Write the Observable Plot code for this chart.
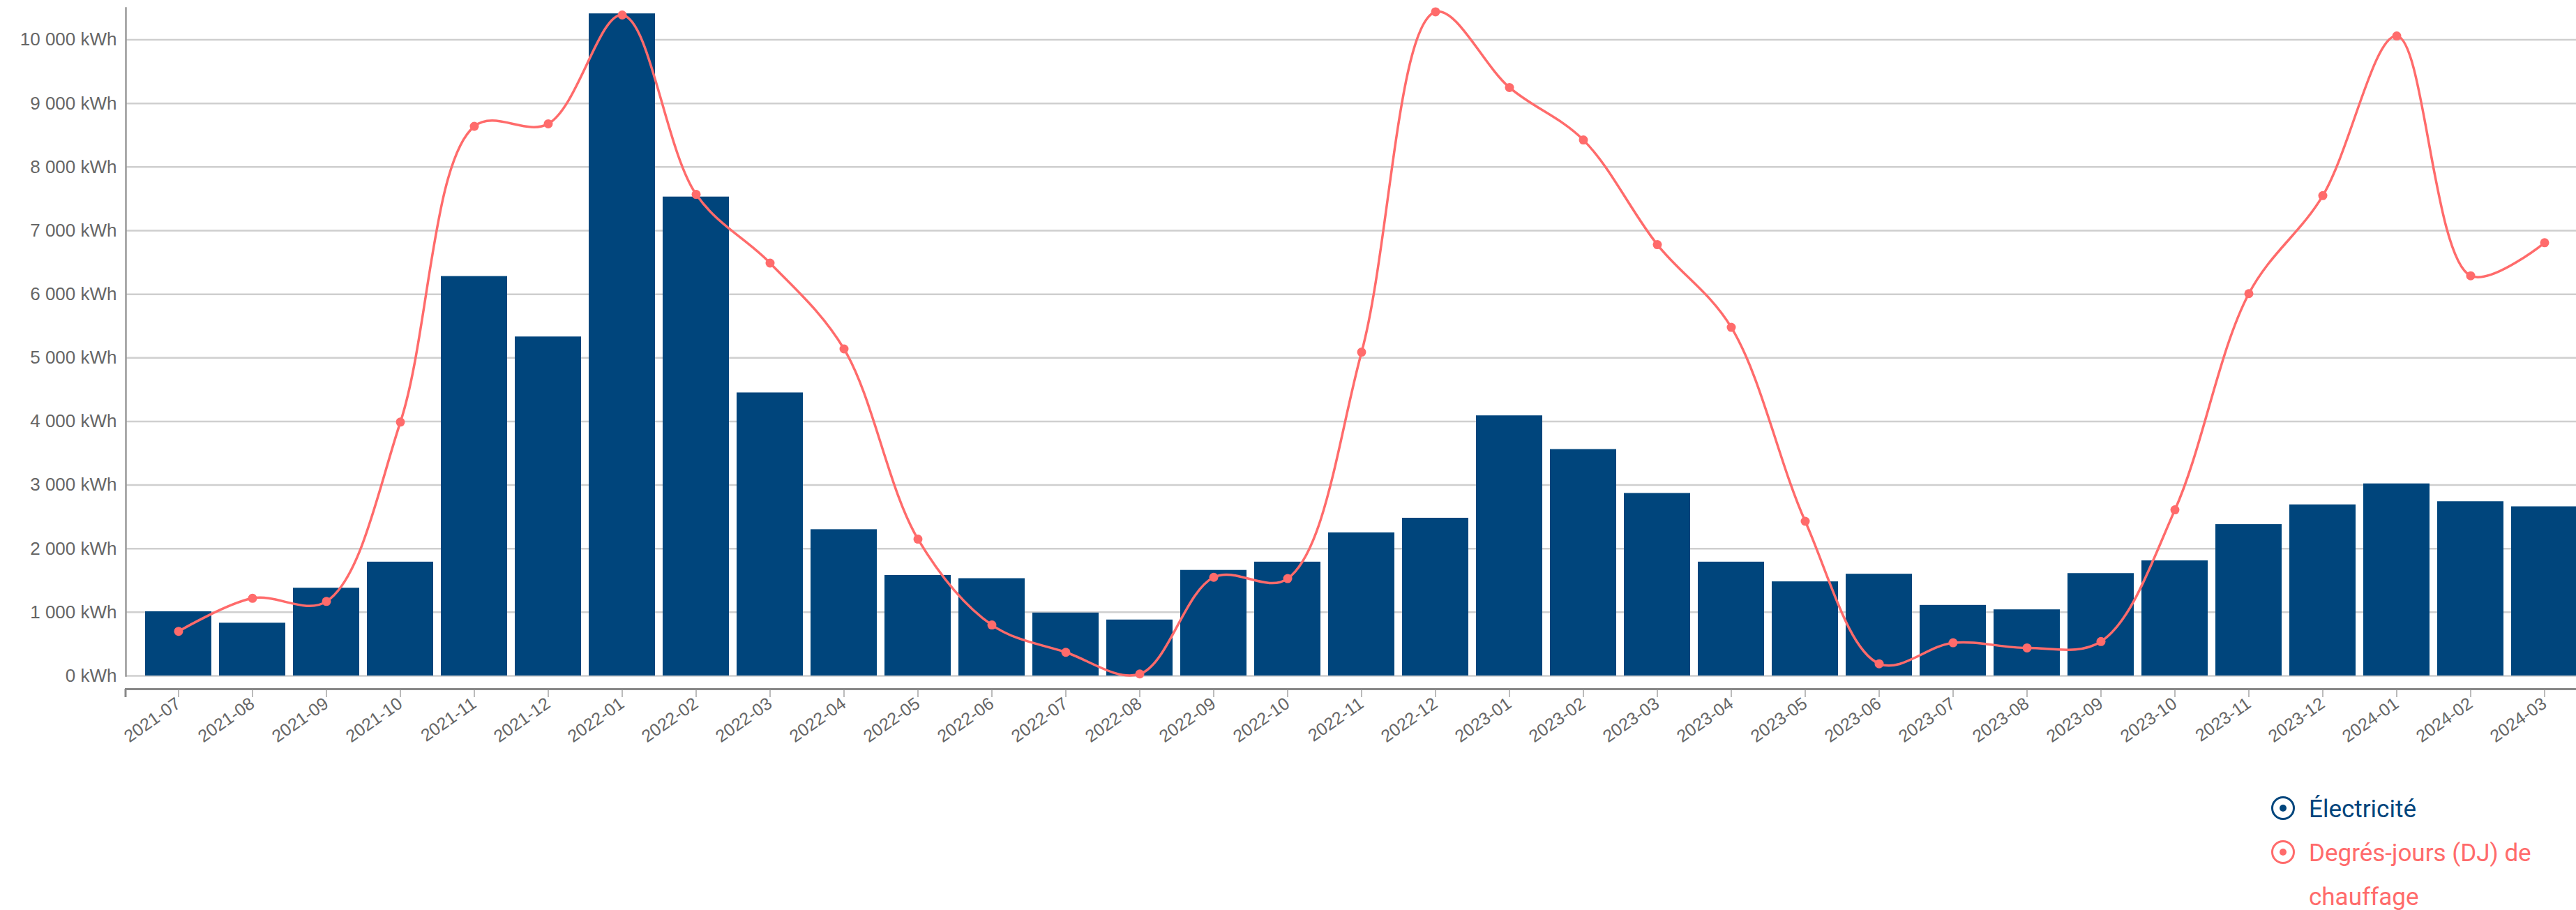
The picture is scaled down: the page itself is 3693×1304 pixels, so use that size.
<!DOCTYPE html>
<html lang="fr">
<head>
<meta charset="utf-8">
<script src="https://cdn.jsdelivr.net/npm/d3@7"></script>
<script src="https://cdn.jsdelivr.net/npm/@observablehq/plot@0.6"></script>
<style>
  html, body { margin: 0; padding: 0; background: #fff; overflow: hidden; }
  #wrap { position: relative; width: 3693px; height: 1304px; overflow: hidden; }
  #chart { position: absolute; left: 0; top: 0; width: 3723px; }
  #chart svg { max-width: none !important; }
  #legend { position: absolute; left: 3250px; top: 1128px; font-family: Roboto, sans-serif; font-size: 35px; line-height: 63px; }
  .item { position: relative; padding-left: 60px; white-space: nowrap; }
  .item svg { position: absolute; left: 5px; top: 12px; }
</style>
</head>
<body>
<div id="wrap">
  <div id="chart"></div>
  <div id="legend"></div>
</div>
<script>
const months = ["2021-07","2021-08","2021-09","2021-10","2021-11","2021-12",
  "2022-01","2022-02","2022-03","2022-04","2022-05","2022-06","2022-07","2022-08","2022-09","2022-10","2022-11","2022-12",
  "2023-01","2023-02","2023-03","2023-04","2023-05","2023-06","2023-07","2023-08","2023-09","2023-10","2023-11","2023-12",
  "2024-01","2024-02","2024-03"];
const electricite = [1010, 830, 1380, 1790, 6280, 5330,
  10410, 7530, 4450, 2300, 1580, 1530, 990, 880, 1660, 1790, 2250, 2480,
  4090, 3560, 2870, 1790, 1480, 1600, 1110, 1040, 1610, 1810, 2380, 2690,
  3020, 2740, 2660];
const degresJours = [700, 1220, 1170, 3990, 8640, 8680,
  10390, 7570, 6490, 5140, 2150, 800, 370, 30, 1550, 1530, 5090, 10440,
  9250, 8425, 6780, 5480, 2430, 190, 520, 440, 540, 2610, 6010, 7550,
  10060, 6290, 6810];
const yTicks = [0, 1000, 2000, 3000, 4000, 5000, 6000, 7000, 8000, 9000, 10000];
const seriesNames = ["Électricité", "Degrés-jours (DJ) de chauffage"];
const seriesColors = ["#00457c", "#ff6b6b"];

const data = months.map((m, i) => ({month: m, elec: electricite[i], dj: degresJours[i]}));
const fr = d3.formatLocale({decimal: ",", thousands: "\u00a0", grouping: [3], currency: ["", " €"]});
const fmtN = fr.format(",d");
const fmtY = v => fmtN(v) + " kWh";

const chart = Plot.plot({
  width: 3723,
  height: 1100,
  marginLeft: 180,
  marginRight: 0,
  marginTop: 11,
  marginBottom: 132,
  style: {fontFamily: "'Liberation Sans', Arial, sans-serif", fontSize: "26px", color: "#666", background: "transparent", overflow: "visible", maxWidth: "none"},
  x: {type: "band", domain: months, paddingInner: 0.1, paddingOuter: 0.255, label: null},
  y: {domain: [0, 10500], label: null},
  marks: [
    Plot.gridY(yTicks, {stroke: "#cfcfcf", strokeOpacity: 1, strokeWidth: 2.5}),
    Plot.barY(data, {x: "month", y: "elec", fill: seriesColors[0]}),
    Plot.line(data, {x: "month", y: "dj", stroke: seriesColors[1], strokeWidth: 3.5, curve: "catmull-rom"}),
    Plot.dot(data, {x: "month", y: "dj", fill: seriesColors[1], r: 6.5}),
    Plot.frame({anchor: "left", stroke: "#999", strokeWidth: 2.5, strokeOpacity: 1}),
    Plot.axisY(yTicks, {tickSize: 0, tickPadding: 13, tickFormat: fmtY, fontSize: 26, fill: "#666"}),
    Plot.axisX({tickSize: 12, dy: 19, tickPadding: 6, tickRotate: -35, fontSize: 25, fill: "#666", stroke: "#bbb", strokeWidth: 2, label: null}),
    Plot.frame({anchor: "bottom", dy: 19, stroke: "#888", strokeWidth: 3, strokeOpacity: 1}),
    (index, scales, values, dims) => {
      const y0 = dims.height - dims.marginBottom + 19;
      return d3.create("svg:line")
        .attr("x1", dims.marginLeft).attr("x2", dims.marginLeft)
        .attr("y1", y0).attr("y2", y0 + 12)
        .attr("stroke", "#888").attr("stroke-width", 3).node();
    }
  ]
});
chart.style.maxWidth = "none";
document.getElementById("chart").appendChild(chart);

const legend = document.getElementById("legend");
seriesNames.forEach((name, i) => {
  const div = document.createElement("div");
  div.className = "item";
  div.style.color = seriesColors[i];
  div.innerHTML = `<svg width="36" height="36" viewBox="0 0 36 36"><circle cx="18" cy="18" r="15.5" fill="none" stroke="${seriesColors[i]}" stroke-width="3"/><circle cx="18" cy="18" r="5" fill="${seriesColors[i]}"/></svg>` +
    (i === 1 ? "Degrés-jours (DJ) de<br>chauffage" : name);
  legend.appendChild(div);
});
</script>
</body>
</html>
